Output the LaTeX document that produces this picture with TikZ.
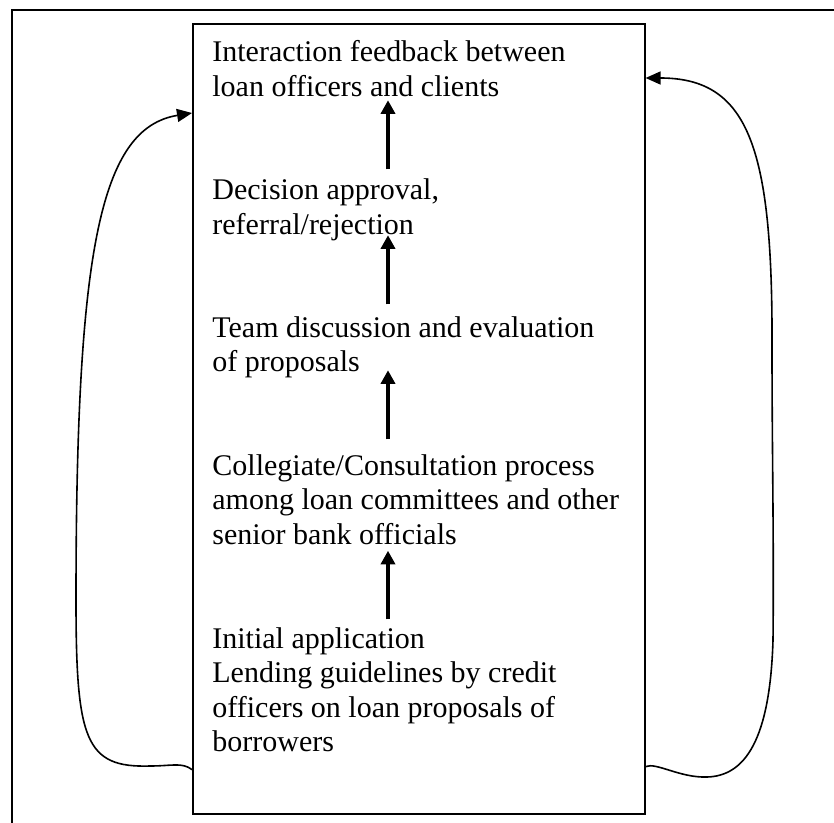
\documentclass[tikz,border=0pt]{standalone}
\usepackage{fontspec}
\setmainfont{Liberation Serif}
\usetikzlibrary{arrows.meta,calc}

\tikzset{
  frameline/.style={line width=0.8pt},
  stage/.style={anchor=base west, inner sep=0pt, font=\fontsize{15pt}{17.25pt}\selectfont},
  flow/.style={line width=2.4pt, -{Triangle[length=6.8pt,width=7pt]}},
  feedback/.style={line width=0.8pt, -{Triangle[length=7.5pt,width=6.5pt]}}
}
\newcommand{\stagetext}[1]{\begin{tabular}[t]{@{}l@{}}#1\end{tabular}}

\begin{document}
\begin{tikzpicture}[x=0.5pt,y=-0.5pt]
  \useasboundingbox (0,0) rectangle (834,823);

  % outer frame (top and left rules)
  \draw[frameline] (834,10) -- (12,10) -- (12,823);

  % process box
  \node[draw, frameline, inner sep=0pt, minimum width=226pt, minimum height=395pt,
        anchor=north west] (box) at (192,23) {};

  % stages
  \node[stage] (t1) at (212,62)  {\stagetext{Interaction feedback between\\loan officers and clients}};
  \node[stage] (t2) at (212,200) {\stagetext{Decision approval,\\referral/rejection}};
  \node[stage] (t3) at (212,337) {\stagetext{Team discussion and evaluation\\of proposals}};
  \node[stage] (t4) at (212,475) {\stagetext{Collegiate/Consultation process\\among loan committees and other\\senior bank officials}};
  \node[stage] (t5) at (212,648) {\stagetext{Initial application\\Lending guidelines by credit\\officers on loan proposals of\\borrowers}};

  \coordinate (ax) at (388,0);

  % upward flow between stages
  \draw[flow] ($(t2.north -| ax)+(0,-6)$)  -- ($(t1.south -| ax)+(0,-7)$);
  \draw[flow] ($(t3.north -| ax)+(0,-8)$)  -- ($(t2.south -| ax)+(0,-10)$);
  \draw[flow] ($(t4.north -| ax)+(0,-11)$) -- ($(t3.south -| ax)+(0,-12)$);
  \draw[flow] ($(t5.north -| ax)+(0,-4)$)  -- ($(t4.south -| ax)+(0,-4)$);

  % feedback loops around the box
  \draw[feedback] ($(box.south west)+(0,-45)$)
      .. controls (182,762) and (172,766) .. (150,766)
      .. controls (85,768) and (76,740) .. (76,600)
      .. controls (76,250) and (100,128) .. ($(box.north west)+(0,90)$);
  \draw[feedback] ($(box.south east)+(0,-48)$)
      .. controls (656,762) and (680,778) .. (707,777)
      .. controls (745,776) and (770,740) .. (773,640)
      .. controls (774,540) and (772,450) .. (772,350)
      .. controls (773,150) and (750,78) .. ($(box.north east)+(0,55)$);
\end{tikzpicture}
\end{document}
